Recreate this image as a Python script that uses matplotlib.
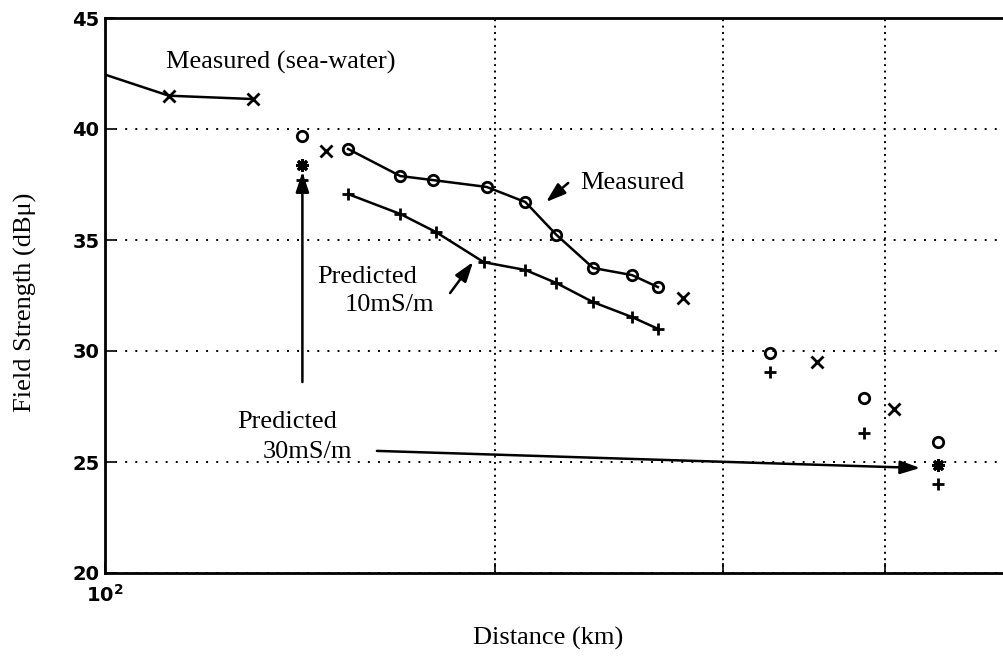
import numpy as np
import matplotlib.pyplot as plt
from matplotlib.ticker import FixedLocator, FixedFormatter, NullFormatter

# sea-water reference run (first point sits on the axis edge, no marker)
sea_dist = [100, 112, 130]
sea_fs = [42.45, 41.5, 41.35]

# measured path, joined
meas_dist = [154, 169, 179, 197, 211, 223, 238, 255, 267]
meas_fs = [39.1, 37.88, 37.7, 37.39, 36.71, 35.23, 33.74, 33.42, 32.88]

# predicted at 10 mS/m, joined
pred10_dist = [154, 169, 180, 196, 211, 223, 238, 255, 267]
pred10_fs = [37.07, 36.17, 35.36, 34.0, 33.65, 33.06, 32.2, 31.53, 31.0]

# isolated sites
site_o_dist = [142, 326, 385, 439]
site_o_fs = [39.68, 29.91, 27.88, 25.9]
site_x_dist = [148, 279, 354, 406]
site_x_fs = [39.0, 32.39, 29.5, 27.39]
site_p_dist = [142, 326, 385, 439]
site_p_fs = [37.7, 29.05, 26.31, 24.0]
site_s_dist = [142, 439]
site_s_fs = [38.38, 24.85]

grid_x = [200, 300, 400]
y_ticks = [20, 25, 30, 35, 40, 45]

serif = 'Liberation Serif'
fs_txt = 19

fig = plt.figure(figsize=(10.04, 6.57), dpi=100)
ax = fig.add_axes([105/1004, 84/657, 906/1004, 555/657])
ax.set_xscale('log')
ax.set_xlim(100, 500)
ax.set_ylim(20, 45)

lw = 1.8
mw = 2.0
ax.plot(sea_dist, sea_fs, color='k', lw=lw, marker='x', ms=8, mew=mw, markevery=[1, 2])
ax.plot(meas_dist, meas_fs, color='k', lw=lw, marker='o', ms=7.5, mfc='none', mew=mw)
ax.plot(pred10_dist, pred10_fs, color='k', lw=lw, marker='+', ms=8, mew=mw)
ax.plot(site_o_dist, site_o_fs, ls='none', color='k', marker='o', ms=7.5, mfc='none', mew=mw)
ax.plot(site_x_dist, site_x_fs, ls='none', color='k', marker='x', ms=8.5, mew=mw)
ax.plot(site_p_dist, site_p_fs, ls='none', color='k', marker='+', ms=8, mew=mw)
ax.plot(site_s_dist, site_s_fs, ls='none', color='k', marker=(8, 2, 0), ms=9, mew=2.2)

# axes decoration
ax.xaxis.set_major_locator(FixedLocator([100]))
ax.xaxis.set_major_formatter(FixedFormatter([r'$\mathdefault{10^{2}}$']))
ax.xaxis.set_minor_locator(FixedLocator(grid_x))
ax.xaxis.set_minor_formatter(NullFormatter())
ax.set_yticks(y_ticks)
ax.tick_params(axis='y', direction='in', length=7, width=1.2, pad=4, labelsize=14)
ax.tick_params(axis='x', which='both', direction='in', length=7, width=1.2, pad=8, labelsize=14)
for lab in ax.get_xticklabels() + ax.get_yticklabels():
    lab.set_fontweight('bold')
for sp in ax.spines.values():
    sp.set_linewidth(2.0)

ax.grid(True, axis='y', which='major', color='k', lw=1.4, ls=(0, (1, 4.2)))
ax.grid(True, axis='x', which='minor', color='k', lw=1.4, ls=(0, (1, 2.3)))
ax.grid(False, axis='x', which='major')

# annotations
arrow = dict(arrowstyle='-|>,head_length=0.6,head_width=0.2', color='k', lw=1.8,
             mutation_scale=20, shrinkA=0, shrinkB=0)
ax.text(111.4, 43.0, 'Measured (sea-water)', family=serif, fontsize=fs_txt, ha='left', va='center')
ax.text(232.6, 37.57, 'Measured', family=serif, fontsize=fs_txt, ha='left', va='center')
ax.annotate('', xy=(218.9, 36.71), xytext=(227.7, 37.57), arrowprops=arrow)
ax.text(145.8, 33.33, 'Predicted', family=serif, fontsize=fs_txt, ha='left', va='center')
ax.text(153.2, 32.07, '10mS/m', family=serif, fontsize=fs_txt, ha='left', va='center')
ax.annotate('', xy=(192.3, 34.01), xytext=(184.6, 32.61), arrowprops=arrow)
ax.text(126.5, 26.8, 'Predicted', family=serif, fontsize=fs_txt, ha='left', va='center')
ax.text(132.4, 25.45, '30mS/m', family=serif, fontsize=fs_txt, ha='left', va='center')
ax.annotate('', xy=(425.5, 24.73), xytext=(162.1, 25.5), arrowprops=arrow)
ax.annotate('', xy=(142, 38.06), xytext=(142, 28.6), arrowprops=arrow)

fig.text(548/1004, 1 - 638/657, 'Distance (km)', family=serif, fontsize=fs_txt,
         ha='center', va='center')
fig.text(25/1004, 1 - 302/657, 'Field Strength (dBμ)', family=serif, fontsize=fs_txt,
         ha='center', va='center', rotation=90)

fig.savefig('out.png', dpi=100)
